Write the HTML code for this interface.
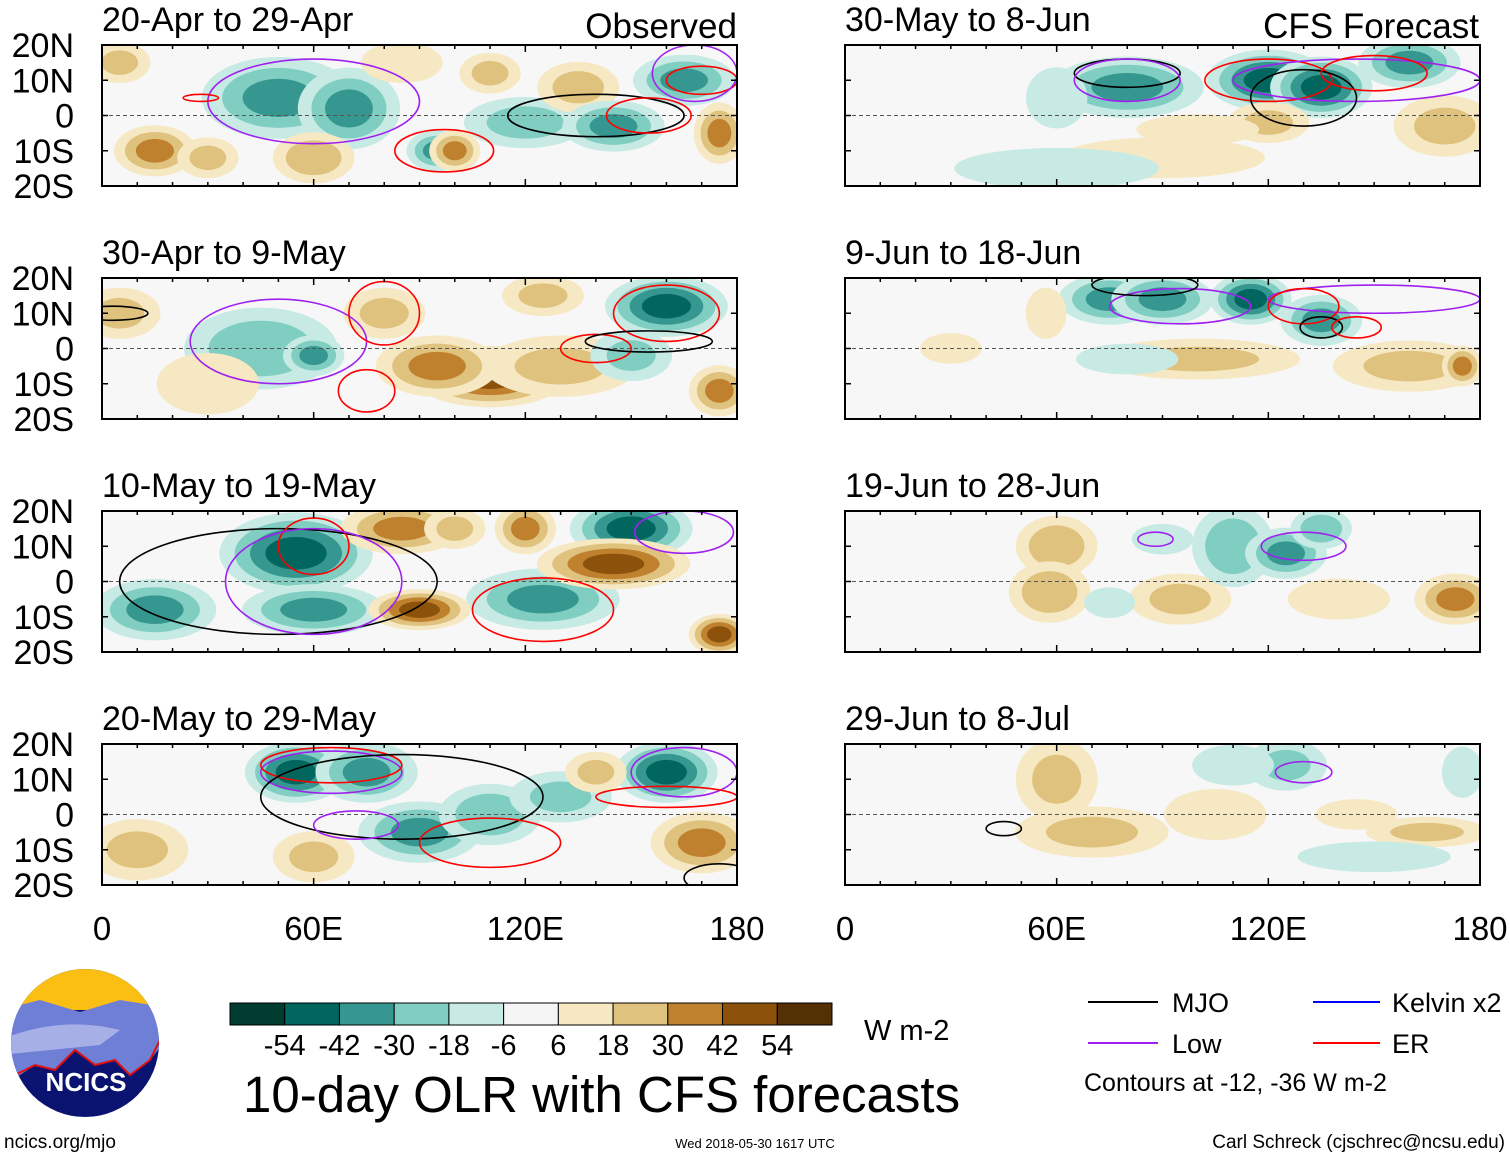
<!DOCTYPE html>
<html><head><meta charset="utf-8">
<style>
html,body{margin:0;padding:0;background:#fff;}
body{width:1510px;height:1158px;overflow:hidden;font-family:"Liberation Sans",sans-serif;}
svg text{font-family:"Liberation Sans",sans-serif;}
</style></head>
<body>
<svg id="fig" width="1510" height="1158" viewBox="0 0 1510 1158" xmlns="http://www.w3.org/2000/svg">
</svg>
<script>
// ---- data ----
const panelTitles = ["20-Apr to 29-Apr","30-Apr to 9-May","10-May to 19-May","20-May to 29-May",
                     "30-May to 8-Jun","9-Jun to 18-Jun","19-Jun to 28-Jun","29-Jun to 8-Jul"];
const latTicks = ["20N","10N","0","10S","20S"];
const latValues = [20,10,0,-10,-20];
const lonTicks = ["0","60E","120E","180"];
const lonValues = [0,60,120,180];
const cbLabels = ["-54","-42","-30","-18","-6","6","18","30","42","54"];
const cbColors = ["#003c30","#01665e","#35978f","#80cdc1","#c7eae5","#f5f5f5","#f6e8c3","#dfc27d","#bf812d","#8c510a","#543005"];
// anomaly blobs per panel: [lon, lat, peak W m-2, lon half-width, lat half-width]
const blobs0 = [[15,-10,30,8,5],[30,-12,18,6,4],[50,5,-30,15,8],[70,2,-30,10,8],[60,-12,24,8,5],[95,-10,-30,6,4],[100,-10,30,5,4],[120,-2,-20,12,5],[135,8,20,8,5],[145,-3,-30,10,5],[165,10,-30,10,5],[175,-5,30,5,6],[110,12,18,6,4],[5,15,18,6,4],[85,15,12,8,4]];
const blobs1 = [[45,0,-24,15,8],[60,-2,-30,6,4],[110,-8,42,15,6],[95,-5,30,12,6],[130,-5,18,15,6],[160,12,-42,12,6],[150,-2,-18,8,5],[5,10,18,8,5],[30,-10,12,10,6],[175,-12,30,6,5],[80,10,18,8,5],[125,15,18,8,4]];
const blobs2 = [[55,8,-42,15,8],[15,-8,-30,12,6],[60,-8,-30,14,5],[150,15,-42,12,6],[125,-5,-30,15,6],[90,-8,42,10,4],[85,15,30,12,5],[120,15,30,6,5],[145,5,42,15,5],[175,-15,42,6,4],[100,15,18,6,4]];
const blobs3 = [[55,12,-42,10,6],[75,12,-30,10,6],[90,-5,-30,12,6],[110,0,-24,10,6],[160,12,-42,10,6],[130,5,-18,10,5],[170,-8,30,10,6],[10,-10,18,10,6],[140,12,18,6,4],[60,-12,18,8,5]];
const blobs4 = [[80,8,-30,15,6],[120,10,-42,12,6],[135,8,-42,10,6],[160,15,-30,10,5],[90,-12,12,20,4],[120,-2,18,8,4],[100,-4,12,12,3],[170,-3,18,10,6],[60,5,-12,6,6],[60,-15,-8,20,4]];
const blobs5 = [[75,14,-30,10,5],[90,14,-30,10,5],[115,14,-42,8,5],[135,8,-30,8,5],[57,10,12,4,5],[100,-3,18,20,4],[160,-5,18,15,5],[175,-5,30,4,4],[80,-3,-8,10,3],[30,0,8,6,3]];
const blobs6 = [[60,10,24,8,6],[58,-3,24,8,6],[95,-5,18,10,5],[110,10,-24,8,8],[125,8,-30,8,5],[135,15,-24,6,4],[173,-5,30,8,5],[140,-5,12,10,4],[90,12,-8,6,3],[75,-6,-12,5,3]];
const blobs7 = [[60,10,18,8,8],[70,-5,18,15,5],[105,0,12,10,5],[125,14,-18,8,5],[165,-5,18,12,3],[145,0,12,8,3],[110,14,-12,8,4],[175,12,-8,4,5],[150,-12,-8,15,3]];
const allBlobs = [blobs0,blobs1,blobs2,blobs3,blobs4,blobs5,blobs6,blobs7];
// contours per panel: [type, lon, lat, lon half-width, lat half-width]
const cont0 = [["low",60,4,30,12],["mjo",140,0,25,6],["er",28,5,5,1],["er",97,-10,14,6],["er",155,0,12,5],["er",170,10,10,4],["low",168,12,12,8]];
const cont1 = [["low",50,2,25,12],["er",80,10,10,9],["er",160,10,15,8],["er",140,0,10,4],["er",75,-12,8,6],["mjo",155,2,18,3],["mjo",3,10,10,2]];
const cont2 = [["mjo",50,0,45,15],["er",60,10,10,8],["er",125,-8,20,9],["low",60,0,25,15],["low",165,14,14,6]];
const cont3 = [["low",65,12,20,6],["er",65,14,20,5],["mjo",85,5,40,12],["er",110,-8,20,7],["low",72,-3,12,4],["low",165,12,15,7],["er",160,5,20,3],["mjo",175,-18,10,4]];
const cont4 = [["mjo",80,12,15,4],["low",80,10,15,6],["er",120,10,18,6],["low",145,10,35,6],["mjo",130,5,15,8],["er",150,12,15,5]];
const cont5 = [["low",95,12,20,5],["low",150,14,30,4],["er",130,12,10,5],["mjo",135,6,6,3],["er",145,6,7,3],["mjo",85,18,15,3]];
const cont6 = [["low",88,12,5,2],["low",130,10,12,4]];
const cont7 = [["low",130,12,8,3],["mjo",45,-4,5,2]];
const allConts = [cont0,cont1,cont2,cont3,cont4,cont5,cont6,cont7];
const contColor = {mjo:"#000",low:"#a020f0",er:"#ff0000",kelvin:"#0000ff"};

// ---- layout ----
const NS="http://www.w3.org/2000/svg";
const svg=document.getElementById('fig');
const panelX=[102,102,102,102,845,845,845,845];
const panelY=[45,278,511,744,45,278,511,744];
const PW=635, PH=141, GROW=1.45;
function mk(tag,attrs,parent){const e=document.createElementNS(NS,tag);for(const k in attrs)e.setAttribute(k,attrs[k]);(parent||svg).appendChild(e);return e;}
function colorFor(v){let i=5;if(v>=6)i=Math.min(10,6+Math.floor((v-6)/12));else if(v<=-6)i=Math.max(0,4-Math.floor((-v-6)/12));return cbColors[i];}

for(let p=0;p<8;p++){
  const x0=panelX[p],y0=panelY[p];
  const lonX=l=>x0+l*PW/180, latY=a=>y0+PH/2-a*PH/40;
  const g=mk('g',{});
  
  
  const cp=mk('clipPath',{id:'cp'+p},g);
  mk('rect',{x:x0,y:y0,width:PW,height:PH},cp);
  const inner=mk('g',{'clip-path':'url(#cp'+p+')'},g);
  mk('rect',{x:x0,y:y0,width:PW,height:PH,fill:'#f7f7f7'},inner);
  allBlobs[p].forEach(b=>{
    const [lon,lat,v,rl,ra]=b; const av=Math.abs(v), sg=Math.sign(v);
    for(let lev=6;lev<=av;lev+=12){
      const s=GROW*(1-0.8*(lev-6)/(av+6));
      const el=mk('ellipse',{cx:lonX(lon),cy:latY(lat),rx:rl*PW/180*s,ry:ra*PH/40*s,fill:colorFor(sg*(lev+1))},inner);
      
      
    }
  });
  mk('line',{x1:x0,x2:x0+PW,y1:latY(0),y2:latY(0),stroke:'#555','stroke-dasharray':'4,3','stroke-width':1},inner);
  allConts[p].forEach(c=>{
    const el=mk('ellipse',{cx:lonX(c[1]),cy:latY(c[2]),rx:c[3]*PW/180,ry:c[4]*PH/40,fill:'none',stroke:contColor[c[0]],'stroke-width':1.6},inner);
    
    
  });
  mk('rect',{x:x0,y:y0,width:PW,height:PH,fill:'none',stroke:'#000','stroke-width':2},g);
  for(let l=0;l<=180;l+=10){
    const len=(l%60===0)?7:4;
    mk('line',{x1:lonX(l),x2:lonX(l),y1:y0,y2:y0+len,stroke:'#000','stroke-width':1.5},g);
    mk('line',{x1:lonX(l),x2:lonX(l),y1:y0+PH,y2:y0+PH-len,stroke:'#000','stroke-width':1.5},g);
  }
  latValues.forEach(a=>{
    mk('line',{x1:x0,x2:x0+6,y1:latY(a),y2:latY(a),stroke:'#000','stroke-width':1.5},g);
    mk('line',{x1:x0+PW,x2:x0+PW-6,y1:latY(a),y2:latY(a),stroke:'#000','stroke-width':1.5},g);
  });
  const t=mk('text',{x:x0,y:y0-14,'font-size':34},g);t.textContent=panelTitles[p];
  
  
  if(p<4){
    latTicks.forEach((lb,i)=>{const tt=mk('text',{x:74,y:latY(latValues[i])+12,'font-size':34,'text-anchor':'end'},g);tt.textContent=lb;
      
      });
  }
}
// headers
[["Observed",737],["CFS Forecast",1479]].forEach(h=>{const t=mk('text',{x:h[1],y:38,'font-size':35,'text-anchor':'end'});t.textContent=h[0];
  
  });
// lon labels
[102,845].forEach(x0=>{lonValues.forEach((l,i)=>{const t=mk('text',{x:x0+l*PW/180,y:940,'font-size':33,'text-anchor':'middle'});t.textContent=lonTicks[i];
  
  });});
// colorbar
const cbx=230,cbw=602/11;
cbColors.forEach((c,i)=>{const r=mk('rect',{x:cbx+i*cbw,y:1003,width:cbw,height:22,fill:c,stroke:'#000','stroke-width':1});
  
  });
cbLabels.forEach((lb,i)=>{const t=mk('text',{x:cbx+(i+1)*cbw,y:1055,'font-size':29,'text-anchor':'middle'});t.textContent=lb;
  
  });
</script>
<svg style="position:absolute;left:0;top:0" width="1510" height="1158">
  <text x="864" y="1040" font-size="29">W m-2</text>
  <text x="243" y="1112" font-size="51">10-day OLR with CFS forecasts</text>
  <g>
    <clipPath id="lg"><ellipse cx="85" cy="1043" rx="74" ry="74"/></clipPath>
    <g clip-path="url(#lg)">
      <rect x="0" y="965" width="170" height="160" fill="#0a1470"/>
      <rect x="0" y="965" width="170" height="45" fill="#fbbf13"/>
      <path d="M0 1010 L40 1000 L80 1012 L120 1000 L170 1008 L170 1035 L150 1060 L130 1075 L115 1060 L95 1065 L75 1050 L55 1070 L35 1065 L20 1075 L0 1080 Z" fill="#6f7fd6"/>
      <path d="M0 1040 Q60 1015 120 1030 L100 1045 Q50 1050 0 1055 Z" fill="#a6afe6"/>
      <path d="M15 1075 L35 1065 L55 1070 L75 1050 L95 1065 L115 1060 L130 1075 L150 1060 L160 1040" fill="none" stroke="#e01010" stroke-width="2"/>
    </g>
    <text x="86" y="1091" font-size="26" font-weight="bold" fill="#fff" text-anchor="middle">NCICS</text>
  </g>
  <text x="4" y="1148" font-size="19">ncics.org/mjo</text>
  <text x="755" y="1148" font-size="13" text-anchor="middle">Wed 2018-05-30 1617 UTC</text>
  <text x="1505" y="1148" font-size="19" text-anchor="end">Carl Schreck (cjschrec@ncsu.edu)</text>
  <g>
    <line x1="1088" y1="1002" x2="1158" y2="1002" stroke="#000" stroke-width="2"/>
    <text x="1172" y="1012" font-size="27">MJO</text>
    <line x1="1313" y1="1002" x2="1380" y2="1002" stroke="#0000ff" stroke-width="2"/>
    <text x="1392" y="1012" font-size="27">Kelvin x2</text>
    <line x1="1088" y1="1043" x2="1158" y2="1043" stroke="#a020f0" stroke-width="2"/>
    <text x="1172" y="1053" font-size="27">Low</text>
    <line x1="1313" y1="1043" x2="1380" y2="1043" stroke="#ff0000" stroke-width="2"/>
    <text x="1392" y="1053" font-size="27">ER</text>
    <text x="1084" y="1091" font-size="25">Contours at -12, -36 W m-2</text>
  </g>
</svg>
</body></html>
